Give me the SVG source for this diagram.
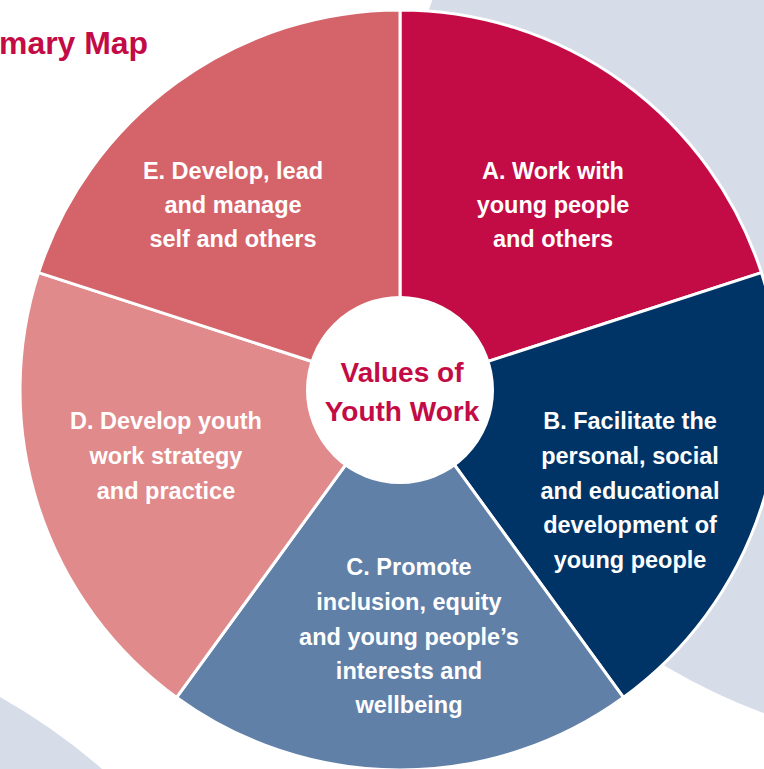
<svg xmlns="http://www.w3.org/2000/svg" width="764" height="769" viewBox="0 0 764 769">
<style>
.seg{stroke:#ffffff;stroke-width:3;stroke-linejoin:round}
.lbl{font-family:"Liberation Sans",Arial,sans-serif;font-weight:bold;font-size:23.5px;fill:#ffffff;text-anchor:middle}
.ctr{font-family:"Liberation Sans",Arial,sans-serif;font-weight:bold;font-size:28px;fill:#c30b45;text-anchor:middle}
.ttl{font-family:"Liberation Sans",Arial,sans-serif;font-weight:bold;font-size:31px;fill:#c30b45}
</style>
<rect width="764" height="769" fill="#ffffff"/>
<g id="background">
<circle cx="952" cy="192" r="554" fill="#d7dce9"/>
<path d="M0,697 Q55,728 102,769 L0,769 Z" fill="#d7dce9"/>
</g>
<text class="ttl" x="-1" y="54" textLength="149" lengthAdjust="spacingAndGlyphs">mary Map</text>
<g id="connectors"></g>
<g id="nodeA">
<path class="seg" fill="#c30b45" d="M400,390 L400,10 A380,380 0 0 1 761.4,272.6 Z"/>
<text class="lbl" x="553" y="179">A. Work with</text>
<text class="lbl" x="553" y="213">young people</text>
<text class="lbl" x="553" y="247">and others</text>
</g>
<g id="nodeB">
<path class="seg" fill="#003466" d="M400,390 L761.4,272.6 A380,380 0 0 1 623.4,697.4 Z"/>
<text class="lbl" x="630" y="429">B. Facilitate the</text>
<text class="lbl" x="630" y="464">personal, social</text>
<text class="lbl" x="630" y="499">and educational</text>
<text class="lbl" x="630" y="533">development of</text>
<text class="lbl" x="630" y="568">young people</text>
</g>
<g id="nodeC">
<path class="seg" fill="#6080a8" d="M400,390 L623.4,697.4 A380,380 0 0 1 176.6,697.4 Z"/>
<text class="lbl" x="409" y="575">C. Promote</text>
<text class="lbl" x="409" y="610">inclusion, equity</text>
<text class="lbl" x="409" y="645">and young people’s</text>
<text class="lbl" x="409" y="679">interests and</text>
<text class="lbl" x="409" y="713">wellbeing</text>
</g>
<g id="nodeD">
<path class="seg" fill="#e08a8b" d="M400,390 L176.6,697.4 A380,380 0 0 1 38.6,272.6 Z"/>
<text class="lbl" x="166" y="429">D. Develop youth</text>
<text class="lbl" x="166" y="464">work strategy</text>
<text class="lbl" x="166" y="499">and practice</text>
</g>
<g id="nodeE">
<path class="seg" fill="#d4646a" d="M400,390 L38.6,272.6 A380,380 0 0 1 400,10 Z"/>
<text class="lbl" x="233" y="179">E. Develop, lead</text>
<text class="lbl" x="233" y="213">and manage</text>
<text class="lbl" x="233" y="247">self and others</text>
</g>
<g id="center">
<circle cx="400" cy="390" r="93" fill="#ffffff" stroke="#ffffff" stroke-width="2"/>
<text class="ctr" x="402" y="382">Values of</text>
<text class="ctr" x="402" y="421">Youth Work</text>
</g>
</svg>
